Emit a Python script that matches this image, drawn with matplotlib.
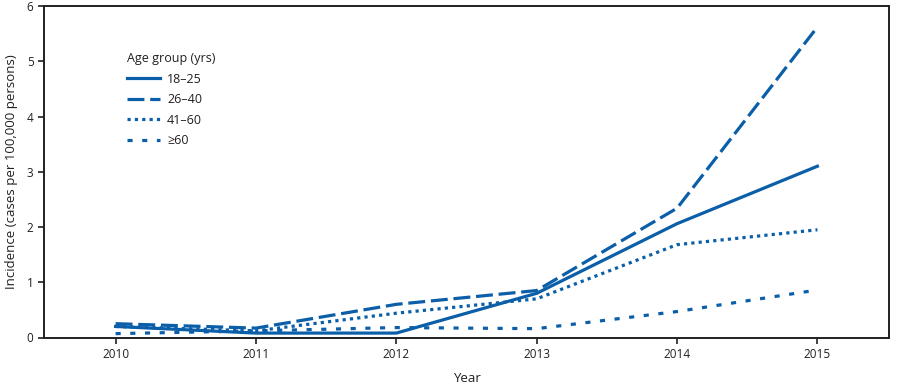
import matplotlib
matplotlib.use("Agg")
import matplotlib.pyplot as plt

plt.rcParams['font.family'] = ['Open Sans', 'DejaVu Sans']

# Data
years = [2010, 2011, 2012, 2013, 2014, 2015]
age_18_25 = [0.20, 0.08, 0.08, 0.80, 2.06, 3.10]
age_26_40 = [0.25, 0.17, 0.60, 0.85, 2.34, 5.62]
age_41_60 = [0.20, 0.12, 0.44, 0.70, 1.68, 1.95]
age_60_up = [0.07, 0.12, 0.18, 0.16, 0.47, 0.86]
labels = ["18\u201325", "26\u201340", "41\u201360", "\u226560"]
y_ticks = [0, 1, 2, 3, 4, 5, 6]

color = '#0b5ea8'
ink = '#231f20'

fig = plt.figure(figsize=(8.97, 3.85), dpi=100)
ax = fig.add_axes([44 / 897, 1 - 337.5 / 385, 845 / 897, 331.5 / 385])

series = [age_18_25, age_26_40, age_41_60, age_60_up]
styles = ['-', (0, (5.3, 1.8)), (0, (1.0, 1.3)), (0, (1.6, 3.0))]
for vals, ls, lab in zip(series, styles, labels):
    ax.plot(years, vals, color=color, lw=2.3, linestyle=ls, label=lab)

ax.set_xlim(2009.49, 2015.51)
ax.set_ylim(0, 6)
ax.set_xticks(years)
ax.set_yticks(y_ticks)
ax.tick_params(labelsize=8.5, length=4, width=1.2, color=ink, labelcolor=ink)
for sp in ax.spines.values():
    sp.set_linewidth(1.4)
    sp.set_color(ink)

ax.set_xlabel("Year", fontsize=9.5, color=ink, labelpad=8)
ax.set_ylabel("Incidence (cases per 100,000 persons)", fontsize=9.5, color=ink, labelpad=6)

leg = ax.legend(title="Age group (yrs)", frameon=False, fontsize=9, title_fontsize=9,
                loc='upper left', bbox_to_anchor=(0.085, 0.895), handlelength=2.6,
                handletextpad=0.6, labelspacing=0.6, alignment='left')
for t in leg.get_texts():
    t.set_color(ink)
leg.get_title().set_color(ink)

fig.savefig("out.png", dpi=100)
